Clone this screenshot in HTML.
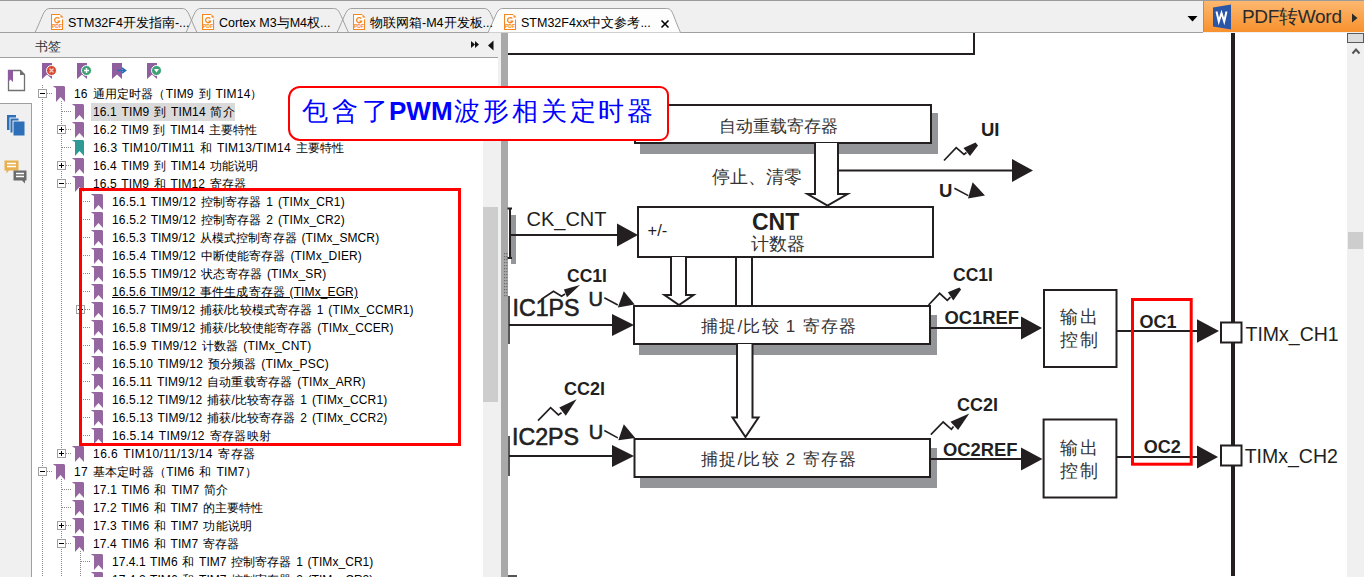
<!DOCTYPE html>
<html><head><meta charset="utf-8">
<style>
html,body{margin:0;padding:0;}
body{width:1364px;height:577px;overflow:hidden;position:relative;background:#f0f0f0;font-family:"Liberation Sans",sans-serif;}
.abs{position:absolute;}
.row{position:absolute;height:18px;line-height:18px;font-size:12px;color:#000;white-space:pre;word-spacing:1.3px;}
.row.ul{text-decoration:underline;}

.row.ul span{}
.tabtxt{position:absolute;top:13px;height:20px;line-height:20px;font-size:12.5px;color:#000;white-space:pre;}
</style></head><body>
<div class="abs" style="left:0;top:0;width:1364px;height:1px;background:#9a9a9a"></div>
<svg class="abs" style="left:0;top:0" width="1364" height="34"><path d="M35 32.5C39.2 24 42.7 14 45 11C46.5 9 48 8.5 50 8.5H182C184 8.5 185.5 9 187 11C189.3 14 192.8 24 197 32.5" fill="none" stroke="#a0a0a0" stroke-width="1"/><path d="M186 32.5C190.2 24 193.7 14 196 11C197.5 9 199 8.5 201 8.5H333.5C335.5 8.5 337.0 9 338.5 11C340.8 14 344.3 24 348.5 32.5" fill="none" stroke="#a0a0a0" stroke-width="1"/><path d="M337 32.5C341.2 24 344.7 14 347 11C348.5 9 350 8.5 352 8.5H484C486 8.5 487.5 9 489 11C491.3 14 494.8 24 499 32.5" fill="none" stroke="#a0a0a0" stroke-width="1"/><line x1="0" y1="32.5" x2="1203" y2="32.5" stroke="#a0a0a0"/><path d="M488 32.5C492.2 24 495.7 14 498 11C499.5 9 501 8.5 503 8.5H666.5C668.5 8.5 670.0 9 671.5 11C673.35 14 676.6 24 680.5 32.5" fill="#fdfdfd" stroke="#a0a0a0" stroke-width="1"/></svg>
<svg class="abs" style="left:51px;top:14px" width="13" height="17" viewBox="0 0 13 17"><path d="M9 0.5H0.5V15.5H11.5V5.5" fill="#fff" stroke="#f5871f" stroke-width="1.1"/><path d="M9.5 0.3L12.5 3.5H9.5Z" fill="#f5871f"/><path d="M8.3 4.6A2.6 2.6 0 1 0 8.6 7.2H6.4" fill="none" stroke="#f5871f" stroke-width="1.3"/><text x="6" y="14" font-size="5" font-weight="bold" fill="#f5871f" text-anchor="middle">PDF</text></svg><svg class="abs" style="left:202px;top:14px" width="13" height="17" viewBox="0 0 13 17"><path d="M9 0.5H0.5V15.5H11.5V5.5" fill="#fff" stroke="#f5871f" stroke-width="1.1"/><path d="M9.5 0.3L12.5 3.5H9.5Z" fill="#f5871f"/><path d="M8.3 4.6A2.6 2.6 0 1 0 8.6 7.2H6.4" fill="none" stroke="#f5871f" stroke-width="1.3"/><text x="6" y="14" font-size="5" font-weight="bold" fill="#f5871f" text-anchor="middle">PDF</text></svg><svg class="abs" style="left:353px;top:14px" width="13" height="17" viewBox="0 0 13 17"><path d="M9 0.5H0.5V15.5H11.5V5.5" fill="#fff" stroke="#f5871f" stroke-width="1.1"/><path d="M9.5 0.3L12.5 3.5H9.5Z" fill="#f5871f"/><path d="M8.3 4.6A2.6 2.6 0 1 0 8.6 7.2H6.4" fill="none" stroke="#f5871f" stroke-width="1.3"/><text x="6" y="14" font-size="5" font-weight="bold" fill="#f5871f" text-anchor="middle">PDF</text></svg><svg class="abs" style="left:504px;top:14px" width="13" height="17" viewBox="0 0 13 17"><path d="M9 0.5H0.5V15.5H11.5V5.5" fill="#fff" stroke="#f5871f" stroke-width="1.1"/><path d="M9.5 0.3L12.5 3.5H9.5Z" fill="#f5871f"/><path d="M8.3 4.6A2.6 2.6 0 1 0 8.6 7.2H6.4" fill="none" stroke="#f5871f" stroke-width="1.3"/><text x="6" y="14" font-size="5" font-weight="bold" fill="#f5871f" text-anchor="middle">PDF</text></svg>
<div class="tabtxt" style="left:68px">STM32F4开发指南-...</div>
<div class="tabtxt" style="left:219px">Cortex M3与M4权...</div>
<div class="tabtxt" style="left:370px">物联网箱-M4开发板...</div>
<div class="tabtxt" style="left:521px">STM32F4xx中文参考...</div>
<svg class="abs" style="left:660px;top:19px" width="10" height="10"><path d="M1.5 1.5L8.5 8.5M8.5 1.5L1.5 8.5" stroke="#000" stroke-width="1.6"/></svg>
<svg class="abs" style="left:1187px;top:15px" width="11" height="7"><path d="M0.5 1H10.5L5.5 6.5Z" fill="#000"/></svg>
<div class="abs" style="left:1203px;top:1px;width:161px;height:31px;background:linear-gradient(#fdb870,#f8912e);border-left:1px solid #e0842a;box-sizing:border-box"></div>
<svg class="abs" style="left:1212px;top:4px" width="20" height="26" viewBox="0 0 20 26"><path d="M1 3.5L19 0.5V25.5L1 22.5Z" fill="#2a56a8"/><path d="M4.5 7.5L6.8 17.5L9.5 9L12.2 17.5L14.5 7.5" fill="none" stroke="#fff" stroke-width="2"/></svg>
<div class="abs" style="left:1242px;top:5px;font-size:19px;line-height:24px;color:#2a2a2a;white-space:pre;letter-spacing:-0.3px">PDF转Word</div>
<svg class="abs" style="left:1351px;top:13px" width="8" height="10"><path d="M1 0.5L6.5 5L1 9.5Z" fill="#2a2a2a"/></svg>

<!-- bookmark header -->
<div class="abs" style="left:0;top:33px;width:501px;height:24px;background:#f0f0f0"></div>
<div class="abs" style="left:0;top:57px;width:498px;height:1px;background:#a0a0a0"></div>
<div class="abs" style="left:35px;top:37.5px;font-size:12.5px;line-height:18px;color:#333">书签</div>
<svg class="abs" style="left:470px;top:40px" width="26" height="11"><path d="M1 1L5 4.5L1 8ZM5 1L9 4.5L5 8Z" fill="#111"/><path d="M23.5 0.5V10.5L18 5.5Z" fill="#111"/></svg>

<!-- left icon column -->
<div class="abs" style="left:0;top:58px;width:32px;height:519px;background:#fff"></div>
<div class="abs" style="left:0;top:103px;width:31px;height:474px;background:#f0f0f0;border-top:1px solid #a0a0a0;border-right:1px solid #a0a0a0;box-sizing:border-box;width:32px"></div>
<svg class="abs" style="left:7px;top:69px" width="20" height="23"><path d="M1.5 1.5H13.5L17.5 5.5V21.5H1.5Z" fill="#fff" stroke="#707070" stroke-width="1.3"/><path d="M13 1V6H18" fill="#707070"/><path d="M1 1H6V13L3.5 10.5L1 13Z" fill="#8e5c9e"/></svg>
<svg class="abs" style="left:6px;top:114px" width="20" height="24"><rect x="1" y="1" width="9" height="15" fill="#2d6fb8"/><rect x="4" y="4" width="9" height="15" fill="#2d6fb8" stroke="#f0f0f0" stroke-width="1"/><rect x="7" y="7" width="12" height="15" fill="#2d6fb8" stroke="#f0f0f0" stroke-width="1"/></svg>
<svg class="abs" style="left:4px;top:160px" width="25" height="25"><path d="M0.5 0.5H14.5V10.5H5L2.5 13.5V10.5H0.5Z" fill="#e9b04f"/><path d="M3 3.5H12M3 6.5H12" stroke="#fff" stroke-width="1.3"/><path d="M9.5 10.5H22.5V20.5H21V23.5L18 20.5H9.5Z" fill="#6b6b6b"/><path d="M12 13.5H20M12 16.5H20" stroke="#fff" stroke-width="1.3"/></svg>

<!-- tree panel -->
<div class="abs" style="left:32px;top:58px;width:466px;height:519px;background:#fff"></div>
<div class="abs" style="left:498px;top:58px;width:3px;height:519px;background:#f0f0f0"></div>
<div class="abs" style="left:483px;top:86px;width:15px;height:491px;background:#f0f0f0"></div>
<div class="abs" style="left:483px;top:207px;width:15px;height:195px;background:#cdcdcd"></div>

<!-- bookmark toolbar icons -->
<svg class="abs" style="left:35px;top:58px" width="140" height="26">
<path d="M7 5H17V21L12 16.5L7 21Z" fill="#8f5e9f"/>
<circle cx="16.5" cy="12.5" r="5" fill="#d9482e" stroke="#fff" stroke-width="1"/><path d="M14.5 10.5L18.5 14.5M18.5 10.5L14.5 14.5" stroke="#f5c7bd" stroke-width="1.4"/>
<path d="M42 5H52V21L47 16.5L42 21Z" fill="#8f5e9f"/>
<circle cx="51.5" cy="12.5" r="5" fill="#3ca276" stroke="#fff" stroke-width="1"/><path d="M49 12.5H54M51.5 10V15" stroke="#fff" stroke-width="1.4"/>
<path d="M77 5H87V21L82 16.5L77 21Z" fill="#8f5e9f"/>
<path d="M82 12.5H89M87 10L90.5 12.5L87 15" fill="none" stroke="#2a6bb8" stroke-width="1.6"/>
<path d="M112 5H122V21L117 16.5L112 21Z" fill="#8f5e9f"/>
<circle cx="121.5" cy="12.5" r="5" fill="#3ca276" stroke="#fff" stroke-width="1"/><path d="M119 11L124 11L121.5 14.5Z" fill="#fff"/>
</svg>

<div class="abs" style="left:91px;top:103px;width:144px;height:18px;background:#dadada"></div>
<svg class="abs" style="left:0;top:0" width="501" height="577"><line x1="42.5" y1="85" x2="42.5" y2="577" stroke="#8a8a8a" stroke-width="1" stroke-dasharray="1 1"/>
<line x1="61.5" y1="101" x2="61.5" y2="454" stroke="#8a8a8a" stroke-width="1" stroke-dasharray="1 1"/>
<line x1="61.5" y1="479" x2="61.5" y2="577" stroke="#8a8a8a" stroke-width="1" stroke-dasharray="1 1"/>
<line x1="80.5" y1="191" x2="80.5" y2="436" stroke="#8a8a8a" stroke-width="1" stroke-dasharray="1 1"/>
<line x1="80.5" y1="551" x2="80.5" y2="577" stroke="#8a8a8a" stroke-width="1" stroke-dasharray="1 1"/>
<line x1="47" y1="93.5" x2="53" y2="93.5" stroke="#8a8a8a" stroke-width="1" stroke-dasharray="1 1"/>
<rect x="38.5" y="89.5" width="8" height="8" fill="#fff" stroke="#a0a0a0"/>
<line x1="40" y1="93.5" x2="45" y2="93.5" stroke="#000"/>
<path d="M53 86H64L65 87V102L60.5 97L56 102V88L54 87Z" fill="#95669f"/>
<line x1="62" y1="111.5" x2="72" y2="111.5" stroke="#8a8a8a" stroke-width="1" stroke-dasharray="1 1"/>
<path d="M72 104H83L84 105V120L79.5 115L75 120V106L73 105Z" fill="#95669f"/>
<line x1="66" y1="129.5" x2="72" y2="129.5" stroke="#8a8a8a" stroke-width="1" stroke-dasharray="1 1"/>
<rect x="57.5" y="125.5" width="8" height="8" fill="#fff" stroke="#a0a0a0"/>
<line x1="59" y1="129.5" x2="64" y2="129.5" stroke="#000"/>
<line x1="61.5" y1="127" x2="61.5" y2="132" stroke="#000"/>
<path d="M72 122H83L84 123V138L79.5 133L75 138V124L73 123Z" fill="#95669f"/>
<line x1="62" y1="147.5" x2="72" y2="147.5" stroke="#8a8a8a" stroke-width="1" stroke-dasharray="1 1"/>
<path d="M72 140H83L84 141V156L79.5 151L75 156V142L73 141Z" fill="#2f9a95"/>
<line x1="66" y1="165.5" x2="72" y2="165.5" stroke="#8a8a8a" stroke-width="1" stroke-dasharray="1 1"/>
<rect x="57.5" y="161.5" width="8" height="8" fill="#fff" stroke="#a0a0a0"/>
<line x1="59" y1="165.5" x2="64" y2="165.5" stroke="#000"/>
<line x1="61.5" y1="163" x2="61.5" y2="168" stroke="#000"/>
<path d="M72 158H83L84 159V174L79.5 169L75 174V160L73 159Z" fill="#95669f"/>
<line x1="66" y1="183.5" x2="72" y2="183.5" stroke="#8a8a8a" stroke-width="1" stroke-dasharray="1 1"/>
<rect x="57.5" y="179.5" width="8" height="8" fill="#fff" stroke="#a0a0a0"/>
<line x1="59" y1="183.5" x2="64" y2="183.5" stroke="#000"/>
<path d="M72 176H83L84 177V192L79.5 187L75 192V178L73 177Z" fill="#95669f"/>
<line x1="81" y1="201.5" x2="91" y2="201.5" stroke="#8a8a8a" stroke-width="1" stroke-dasharray="1 1"/>
<path d="M91 194H102L103 195V210L98.5 205L94 210V196L92 195Z" fill="#95669f"/>
<line x1="81" y1="219.5" x2="91" y2="219.5" stroke="#8a8a8a" stroke-width="1" stroke-dasharray="1 1"/>
<path d="M91 212H102L103 213V228L98.5 223L94 228V214L92 213Z" fill="#95669f"/>
<line x1="81" y1="237.5" x2="91" y2="237.5" stroke="#8a8a8a" stroke-width="1" stroke-dasharray="1 1"/>
<path d="M91 230H102L103 231V246L98.5 241L94 246V232L92 231Z" fill="#95669f"/>
<line x1="81" y1="255.5" x2="91" y2="255.5" stroke="#8a8a8a" stroke-width="1" stroke-dasharray="1 1"/>
<path d="M91 248H102L103 249V264L98.5 259L94 264V250L92 249Z" fill="#95669f"/>
<line x1="81" y1="273.5" x2="91" y2="273.5" stroke="#8a8a8a" stroke-width="1" stroke-dasharray="1 1"/>
<path d="M91 266H102L103 267V282L98.5 277L94 282V268L92 267Z" fill="#95669f"/>
<line x1="81" y1="291.5" x2="91" y2="291.5" stroke="#8a8a8a" stroke-width="1" stroke-dasharray="1 1"/>
<path d="M91 284H102L103 285V300L98.5 295L94 300V286L92 285Z" fill="#95669f"/>
<line x1="85" y1="309.5" x2="91" y2="309.5" stroke="#8a8a8a" stroke-width="1" stroke-dasharray="1 1"/>
<rect x="76.5" y="305.5" width="8" height="8" fill="#fff" stroke="#a0a0a0"/>
<line x1="78" y1="309.5" x2="83" y2="309.5" stroke="#000"/>
<line x1="80.5" y1="307" x2="80.5" y2="312" stroke="#000"/>
<path d="M91 302H102L103 303V318L98.5 313L94 318V304L92 303Z" fill="#95669f"/>
<line x1="81" y1="327.5" x2="91" y2="327.5" stroke="#8a8a8a" stroke-width="1" stroke-dasharray="1 1"/>
<path d="M91 320H102L103 321V336L98.5 331L94 336V322L92 321Z" fill="#95669f"/>
<line x1="81" y1="345.5" x2="91" y2="345.5" stroke="#8a8a8a" stroke-width="1" stroke-dasharray="1 1"/>
<path d="M91 338H102L103 339V354L98.5 349L94 354V340L92 339Z" fill="#95669f"/>
<line x1="81" y1="363.5" x2="91" y2="363.5" stroke="#8a8a8a" stroke-width="1" stroke-dasharray="1 1"/>
<path d="M91 356H102L103 357V372L98.5 367L94 372V358L92 357Z" fill="#95669f"/>
<line x1="81" y1="381.5" x2="91" y2="381.5" stroke="#8a8a8a" stroke-width="1" stroke-dasharray="1 1"/>
<path d="M91 374H102L103 375V390L98.5 385L94 390V376L92 375Z" fill="#95669f"/>
<line x1="81" y1="399.5" x2="91" y2="399.5" stroke="#8a8a8a" stroke-width="1" stroke-dasharray="1 1"/>
<path d="M91 392H102L103 393V408L98.5 403L94 408V394L92 393Z" fill="#95669f"/>
<line x1="81" y1="417.5" x2="91" y2="417.5" stroke="#8a8a8a" stroke-width="1" stroke-dasharray="1 1"/>
<path d="M91 410H102L103 411V426L98.5 421L94 426V412L92 411Z" fill="#95669f"/>
<line x1="81" y1="435.5" x2="91" y2="435.5" stroke="#8a8a8a" stroke-width="1" stroke-dasharray="1 1"/>
<path d="M91 428H102L103 429V444L98.5 439L94 444V430L92 429Z" fill="#95669f"/>
<line x1="66" y1="453.5" x2="72" y2="453.5" stroke="#8a8a8a" stroke-width="1" stroke-dasharray="1 1"/>
<rect x="57.5" y="449.5" width="8" height="8" fill="#fff" stroke="#a0a0a0"/>
<line x1="59" y1="453.5" x2="64" y2="453.5" stroke="#000"/>
<line x1="61.5" y1="451" x2="61.5" y2="456" stroke="#000"/>
<path d="M72 446H83L84 447V462L79.5 457L75 462V448L73 447Z" fill="#95669f"/>
<line x1="47" y1="471.5" x2="53" y2="471.5" stroke="#8a8a8a" stroke-width="1" stroke-dasharray="1 1"/>
<rect x="38.5" y="467.5" width="8" height="8" fill="#fff" stroke="#a0a0a0"/>
<line x1="40" y1="471.5" x2="45" y2="471.5" stroke="#000"/>
<path d="M53 464H64L65 465V480L60.5 475L56 480V466L54 465Z" fill="#95669f"/>
<line x1="62" y1="489.5" x2="72" y2="489.5" stroke="#8a8a8a" stroke-width="1" stroke-dasharray="1 1"/>
<path d="M72 482H83L84 483V498L79.5 493L75 498V484L73 483Z" fill="#95669f"/>
<line x1="62" y1="507.5" x2="72" y2="507.5" stroke="#8a8a8a" stroke-width="1" stroke-dasharray="1 1"/>
<path d="M72 500H83L84 501V516L79.5 511L75 516V502L73 501Z" fill="#95669f"/>
<line x1="66" y1="525.5" x2="72" y2="525.5" stroke="#8a8a8a" stroke-width="1" stroke-dasharray="1 1"/>
<rect x="57.5" y="521.5" width="8" height="8" fill="#fff" stroke="#a0a0a0"/>
<line x1="59" y1="525.5" x2="64" y2="525.5" stroke="#000"/>
<line x1="61.5" y1="523" x2="61.5" y2="528" stroke="#000"/>
<path d="M72 518H83L84 519V534L79.5 529L75 534V520L73 519Z" fill="#95669f"/>
<line x1="66" y1="543.5" x2="72" y2="543.5" stroke="#8a8a8a" stroke-width="1" stroke-dasharray="1 1"/>
<rect x="57.5" y="539.5" width="8" height="8" fill="#fff" stroke="#a0a0a0"/>
<line x1="59" y1="543.5" x2="64" y2="543.5" stroke="#000"/>
<path d="M72 536H83L84 537V552L79.5 547L75 552V538L73 537Z" fill="#95669f"/>
<line x1="81" y1="561.5" x2="91" y2="561.5" stroke="#8a8a8a" stroke-width="1" stroke-dasharray="1 1"/>
<path d="M91 554H102L103 555V570L98.5 565L94 570V556L92 555Z" fill="#95669f"/>
<line x1="81" y1="579.5" x2="91" y2="579.5" stroke="#8a8a8a" stroke-width="1" stroke-dasharray="1 1"/>
<path d="M91 572H102L103 573V588L98.5 583L94 588V574L92 573Z" fill="#95669f"/></svg>
<div class="row" style="top:85px;left:74px;letter-spacing:0.186px">16 通用定时器（TIM9 到 TIM14）</div>
<div class="row sel" style="top:103px;left:93px;letter-spacing:0.137px">16.1 TIM9 到 TIM14 简介</div>
<div class="row" style="top:121px;left:93px;letter-spacing:0.067px">16.2 TIM9 到 TIM14 主要特性</div>
<div class="row" style="top:139px;left:93px;letter-spacing:0.235px">16.3 TIM10/TIM11 和 TIM13/TIM14 主要特性</div>
<div class="row" style="top:157px;left:93px;letter-spacing:0.105px">16.4 TIM9 到 TIM14 功能说明</div>
<div class="row" style="top:175px;left:93px;letter-spacing:0.100px">16.5 TIM9 和 TIM12 寄存器</div>
<div class="row" style="top:193px;left:112px;letter-spacing:0.156px">16.5.1 TIM9/12 控制寄存器 1 (TIMx_CR1)</div>
<div class="row" style="top:211px;left:112px;letter-spacing:0.156px">16.5.2 TIM9/12 控制寄存器 2 (TIMx_CR2)</div>
<div class="row" style="top:229px;left:112px;letter-spacing:0.100px">16.5.3 TIM9/12 从模式控制寄存器 (TIMx_SMCR)</div>
<div class="row" style="top:247px;left:112px;letter-spacing:0.145px">16.5.4 TIM9/12 中断使能寄存器 (TIMx_DIER)</div>
<div class="row" style="top:265px;left:112px;letter-spacing:0.183px">16.5.5 TIM9/12 状态寄存器 (TIMx_SR)</div>
<div class="row ul" style="top:283px;left:112px;letter-spacing:0.109px">16.5.6 TIM9/12 事件生成寄存器 (TIMx_EGR)</div>
<div class="row" style="top:301px;left:112px;letter-spacing:0.095px">16.5.7 TIM9/12 捕获/比较模式寄存器 1 (TIMx_CCMR1)</div>
<div class="row" style="top:319px;left:112px;letter-spacing:0.108px">16.5.8 TIM9/12 捕获/比较使能寄存器 (TIMx_CCER)</div>
<div class="row" style="top:337px;left:112px;letter-spacing:0.218px">16.5.9 TIM9/12 计数器 (TIMx_CNT)</div>
<div class="row" style="top:355px;left:112px;letter-spacing:0.167px">16.5.10 TIM9/12 预分频器 (TIMx_PSC)</div>
<div class="row" style="top:373px;left:112px;letter-spacing:0.182px">16.5.11 TIM9/12 自动重载寄存器 (TIMx_ARR)</div>
<div class="row" style="top:391px;left:112px;letter-spacing:0.130px">16.5.12 TIM9/12 捕获/比较寄存器 1 (TIMx_CCR1)</div>
<div class="row" style="top:409px;left:112px;letter-spacing:0.130px">16.5.13 TIM9/12 捕获/比较寄存器 2 (TIMx_CCR2)</div>
<div class="row" style="top:427px;left:112px;letter-spacing:0.290px">16.5.14 TIM9/12 寄存器映射</div>
<div class="row" style="top:445px;left:93px;letter-spacing:0.477px">16.6 TIM10/11/13/14 寄存器</div>
<div class="row" style="top:463px;left:74px;letter-spacing:0.240px">17 基本定时器（TIM6 和 TIM7）</div>
<div class="row" style="top:481px;left:93px;letter-spacing:0.167px">17.1 TIM6 和 TIM7 简介</div>
<div class="row" style="top:499px;left:93px;letter-spacing:0.090px">17.2 TIM6 和 TIM7 的主要特性</div>
<div class="row" style="top:517px;left:93px;letter-spacing:0.120px">17.3 TIM6 和 TIM7 功能说明</div>
<div class="row" style="top:535px;left:93px;letter-spacing:0.095px">17.4 TIM6 和 TIM7 寄存器</div>
<div class="row" style="top:553px;left:112px;letter-spacing:0.047px">17.4.1 TIM6 和 TIM7 控制寄存器 1 (TIMx_CR1)</div>
<div class="row" style="top:571px;left:112px;letter-spacing:0.047px">17.4.2 TIM6 和 TIM7 控制寄存器 2 (TIMx_CR2)</div>

<!-- splitter -->
<div class="abs" style="left:501px;top:33px;width:7px;height:544px;background:#a9a9aa"></div>

<svg class="abs" style="left:501px;top:250px" width="7" height="50"><rect x="3" y="3" width="1.2" height="1.2" fill="#6a6a6a"/><rect x="5.2" y="3" width="1.2" height="1.2" fill="#6a6a6a"/><rect x="3" y="6" width="1.2" height="1.2" fill="#6a6a6a"/><rect x="5.2" y="6" width="1.2" height="1.2" fill="#6a6a6a"/><rect x="3" y="9" width="1.2" height="1.2" fill="#6a6a6a"/><rect x="5.2" y="9" width="1.2" height="1.2" fill="#6a6a6a"/><rect x="3" y="12" width="1.2" height="1.2" fill="#6a6a6a"/><rect x="5.2" y="12" width="1.2" height="1.2" fill="#6a6a6a"/><rect x="3" y="15" width="1.2" height="1.2" fill="#6a6a6a"/><rect x="5.2" y="15" width="1.2" height="1.2" fill="#6a6a6a"/><rect x="3" y="18" width="1.2" height="1.2" fill="#6a6a6a"/><rect x="5.2" y="18" width="1.2" height="1.2" fill="#6a6a6a"/><rect x="3" y="21" width="1.2" height="1.2" fill="#6a6a6a"/><rect x="5.2" y="21" width="1.2" height="1.2" fill="#6a6a6a"/><rect x="3" y="24" width="1.2" height="1.2" fill="#6a6a6a"/><rect x="5.2" y="24" width="1.2" height="1.2" fill="#6a6a6a"/><rect x="3" y="27" width="1.2" height="1.2" fill="#6a6a6a"/><rect x="5.2" y="27" width="1.2" height="1.2" fill="#6a6a6a"/><rect x="3" y="30" width="1.2" height="1.2" fill="#6a6a6a"/><rect x="5.2" y="30" width="1.2" height="1.2" fill="#6a6a6a"/><rect x="3" y="33" width="1.2" height="1.2" fill="#6a6a6a"/><rect x="5.2" y="33" width="1.2" height="1.2" fill="#6a6a6a"/><rect x="3" y="36" width="1.2" height="1.2" fill="#6a6a6a"/><rect x="5.2" y="36" width="1.2" height="1.2" fill="#6a6a6a"/><rect x="3" y="39" width="1.2" height="1.2" fill="#6a6a6a"/><rect x="5.2" y="39" width="1.2" height="1.2" fill="#6a6a6a"/><rect x="3" y="42" width="1.2" height="1.2" fill="#6a6a6a"/><rect x="5.2" y="42" width="1.2" height="1.2" fill="#6a6a6a"/><rect x="3" y="45" width="1.2" height="1.2" fill="#6a6a6a"/><rect x="5.2" y="45" width="1.2" height="1.2" fill="#6a6a6a"/></svg>
<!-- document -->
<div class="abs" style="left:508px;top:33px;width:839px;height:544px;background:#fff"></div>
<svg class="abs" style="left:0;top:0;font-family:'Liberation Sans',sans-serif" width="1364" height="577"><path d="M508 54H974V33" fill="none" stroke="#231f20" stroke-width="2"/>
<rect x="1231" y="33" width="4" height="543" fill="#231f20"/>
<rect x="640" y="113" width="298" height="41" fill="#939598"/>
<rect x="635" y="105" width="296" height="38" fill="#fff" stroke="#231f20" stroke-width="2"/>
<path d="M815 143V194H807.5L827.5 205.5L847.5 194H838V143" fill="#fff" stroke="#231f20" stroke-width="2"/>
<line x1="838" y1="170.5" x2="1013" y2="170.5" stroke="#231f20" stroke-width="2"/>
<path d="M1012 159.0L1033 170.5L1012 182.0Z" fill="#231f20" stroke="none" stroke-width="0"/>
<path d="M944 160.5L956.2 147.7L964 154.4L966.5 152.5" fill="none" stroke="#231f20" stroke-width="1.7"/>
<path d="M963.5 148L975.5 142.5L978 145.5L970 156Z" fill="#231f20" stroke="none" stroke-width="0"/>
<line x1="954.4" y1="188.3" x2="968.3" y2="195.6" stroke="#231f20" stroke-width="1.6"/>
<path d="M972.6 182.3L985 195.4L968 198.5Z" fill="#231f20" stroke="none" stroke-width="0"/>
<rect x="638" y="207" width="295" height="50" fill="#fff" stroke="#231f20" stroke-width="2"/>
<rect x="511" y="215" width="5" height="49" fill="#939598"/>
<line x1="510" y1="235" x2="618" y2="235" stroke="#231f20" stroke-width="2"/>
<path d="M617 223.5L638 235L617 246.5Z" fill="#231f20" stroke="none" stroke-width="0"/>
<path d="M507.5 208.5H512M510 208V258M507.5 258H512" fill="none" stroke="#231f20" stroke-width="2"/>
<path d="M671 257V295H664.5L679.0 305L693.5 295H686V257" fill="#fff" stroke="#231f20" stroke-width="2"/>
<line x1="736" y1="257" x2="736" y2="306" stroke="#231f20" stroke-width="2"/>
<line x1="752" y1="257" x2="752" y2="306" stroke="#231f20" stroke-width="2"/>
<rect x="639" y="315" width="298" height="40" fill="#939598"/>
<rect x="634" y="306" width="296" height="38" fill="#fff" stroke="#231f20" stroke-width="2"/>
<path d="M737 344V417.5H732.5L745.5 437L758.5 417.5H752.5V344" fill="#fff" stroke="#231f20" stroke-width="2"/>
<rect x="640" y="448" width="297" height="40" fill="#939598"/>
<rect x="634.5" y="439" width="295.5" height="38" fill="#fff" stroke="#231f20" stroke-width="2"/>
<line x1="509" y1="296" x2="509" y2="344" stroke="#231f20" stroke-width="1.5"/>
<line x1="509" y1="325" x2="613" y2="325" stroke="#231f20" stroke-width="2"/>
<path d="M612 314.0L634 325L612 336.0Z" fill="#231f20" stroke="none" stroke-width="0"/>
<line x1="509" y1="436" x2="509" y2="476" stroke="#231f20" stroke-width="1.5"/>
<line x1="509" y1="456" x2="613" y2="456" stroke="#231f20" stroke-width="2"/>
<path d="M612 445.0L634 456L612 467.0Z" fill="#231f20" stroke="none" stroke-width="0"/>
<path d="M541.5 299.2L553.5 291.2L561.6 296.2L565 294" fill="none" stroke="#231f20" stroke-width="1.7"/>
<path d="M563.9 289.6L580 285L567 297.3Z" fill="#231f20" stroke="none" stroke-width="0"/>
<path d="M538 420.6L550.6 407.6L558.4 414.9L561.5 412.8" fill="none" stroke="#231f20" stroke-width="1.7"/>
<path d="M559.3 407.6L576.6 399.3L565.8 415.8Z" fill="#231f20" stroke="none" stroke-width="0"/>
<line x1="604.3" y1="297.7" x2="617.8" y2="305" stroke="#231f20" stroke-width="1.6"/>
<path d="M623.8 291.3L634.7 304.6L617.8 307.5Z" fill="#231f20" stroke="none" stroke-width="0"/>
<line x1="604.3" y1="430.5" x2="617.8" y2="437.9" stroke="#231f20" stroke-width="1.6"/>
<path d="M623.8 424.3L635.3 437.9L618.3 440.3Z" fill="#231f20" stroke="none" stroke-width="0"/>
<path d="M928.6 305L939.6 293.3L947.3 300.3L950.5 297.2" fill="none" stroke="#231f20" stroke-width="1.7"/>
<path d="M947.9 292.2L959.3 287.5L961.1 289.6L953.3 300.5Z" fill="#231f20" stroke="none" stroke-width="0"/>
<line x1="930" y1="328" x2="1022" y2="328" stroke="#231f20" stroke-width="2"/>
<path d="M1021 316.5L1042 328L1021 339.5Z" fill="#231f20" stroke="none" stroke-width="0"/>
<rect x="1044" y="290" width="72.5" height="77" fill="#fff" stroke="#231f20" stroke-width="2"/>
<line x1="1116" y1="331" x2="1198" y2="331" stroke="#231f20" stroke-width="2"/>
<path d="M1197 319.25L1219 331L1197 342.75Z" fill="#231f20" stroke="none" stroke-width="0"/>
<rect x="1221" y="322.5" width="20.5" height="20" fill="#fff" stroke="#231f20" stroke-width="2"/>
<path d="M930.8 434.7L943.2 422L951.4 429.3L953.5 426.5" fill="none" stroke="#231f20" stroke-width="1.7"/>
<path d="M950.5 421.7L969.3 413.5L958.1 429.9Z" fill="#231f20" stroke="none" stroke-width="0"/>
<line x1="930" y1="459" x2="1022" y2="459" stroke="#231f20" stroke-width="2"/>
<path d="M1021 447.5L1042.5 459L1021 470.5Z" fill="#231f20" stroke="none" stroke-width="0"/>
<rect x="1043.6" y="419.5" width="72.8" height="78" fill="#fff" stroke="#231f20" stroke-width="2"/>
<line x1="1116" y1="457" x2="1198" y2="457" stroke="#231f20" stroke-width="2"/>
<path d="M1197 445.5L1218 457L1197 468.5Z" fill="#231f20" stroke="none" stroke-width="0"/>
<rect x="1221" y="445.5" width="20.5" height="20" fill="#fff" stroke="#231f20" stroke-width="2"/>
<rect x="1132.5" y="299.5" width="58.7" height="164.7" fill="none" stroke="#ff0000" stroke-width="3"/>
<text x="719" y="132" font-size="17.3" font-weight="normal" fill="#333" >自动重载寄存器</text>
<text x="712" y="183" font-size="18" font-weight="normal" fill="#333" >停止、清零</text>
<text x="981" y="136" font-size="18.5" font-weight="bold" fill="#231f20" >UI</text>
<text x="939" y="197" font-size="18.5" font-weight="bold" fill="#231f20" >U</text>
<text x="526.5" y="226" font-size="20" font-weight="normal" fill="#231f20" >CK_CNT</text>
<text x="647.5" y="235.5" font-size="16.5" font-weight="normal" fill="#231f20" >+/-</text>
<text x="752" y="230" font-size="23" font-weight="bold" fill="#231f20" >CNT</text>
<text x="751" y="250" font-size="18" font-weight="normal" fill="#333" >计数器</text>
<text x="567" y="281.5" font-size="17.5" font-weight="bold" fill="#231f20" >CC1I</text>
<text x="512.5" y="316.3" font-size="23.2" font-weight="normal" fill="#231f20" stroke="#231f20" stroke-width="0.6">IC1PS</text>
<text x="588.5" y="305.8" font-size="20" font-weight="normal" fill="#231f20" stroke="#231f20" stroke-width="0.6">U</text>
<text x="564" y="395" font-size="18" font-weight="bold" fill="#231f20" >CC2I</text>
<text x="512" y="445" font-size="23.2" font-weight="normal" fill="#231f20" stroke="#231f20" stroke-width="0.6">IC2PS</text>
<text x="588.8" y="438.8" font-size="20" font-weight="normal" fill="#231f20" stroke="#231f20" stroke-width="0.6">U</text>
<text x="701" y="331.5" font-size="17" font-weight="normal" fill="#333" textLength="155" lengthAdjust="spacing">捕捉/比较 1 寄存器</text>
<text x="701" y="464.5" font-size="17" font-weight="normal" fill="#333" textLength="155" lengthAdjust="spacing">捕捉/比较 2 寄存器</text>
<text x="953" y="280.5" font-size="17.5" font-weight="bold" fill="#231f20" >CC1I</text>
<text x="944.5" y="323.6" font-size="18.4" font-weight="bold" fill="#231f20" >OC1REF</text>
<text x="1060" y="323" font-size="18" font-weight="normal" fill="#333" letter-spacing="1.5">输出</text>
<text x="1060" y="346" font-size="18" font-weight="normal" fill="#333" letter-spacing="1.5">控制</text>
<text x="1139.5" y="327.8" font-size="18" font-weight="bold" fill="#231f20" >OC1</text>
<text x="1245.5" y="341" font-size="19.5" font-weight="normal" fill="#231f20" >TIMx_CH1</text>
<text x="957" y="410.5" font-size="18" font-weight="bold" fill="#231f20" >CC2I</text>
<text x="943" y="456.3" font-size="18.4" font-weight="bold" fill="#231f20" >OC2REF</text>
<text x="1060" y="454" font-size="18" font-weight="normal" fill="#333" letter-spacing="1.5">输出</text>
<text x="1060" y="477" font-size="18" font-weight="normal" fill="#333" letter-spacing="1.5">控制</text>
<text x="1143.8" y="453" font-size="18" font-weight="bold" fill="#231f20" >OC2</text>
<text x="1244.7" y="462.6" font-size="19.5" font-weight="normal" fill="#231f20" >TIMx_CH2</text></svg>

<div class="abs" style="left:508px;top:575px;width:9px;height:2px;background:#555"></div>
<!-- right scrollbar -->
<div class="abs" style="left:1348px;top:43px;width:16px;height:534px;background:#f0f0f0"></div>
<div class="abs" style="left:1347px;top:33px;width:17px;height:10px;background:#dcdcdc;border:1px solid #5a5a5a;box-sizing:border-box"></div>
<svg class="abs" style="left:1351px;top:47px" width="10" height="8"><path d="M1.5 6.5L5 2.5L8.5 6.5" fill="none" stroke="#555" stroke-width="2"/></svg>
<div class="abs" style="left:1348px;top:232px;width:15px;height:17px;background:#cdcdcd"></div>

<!-- red box in sidebar -->
<div class="abs" style="left:79px;top:188px;width:382px;height:258px;border:3px solid #ff0000;box-sizing:border-box"></div>

<!-- callout -->
<div class="abs" style="left:288px;top:86px;width:381px;height:55px;border:2px solid #ff0000;border-radius:12px 9px 9px 12px;box-sizing:border-box;background:#fff"></div>
<div class="abs" style="left:302px;top:95px;font-size:26px;line-height:32px;color:#0000ff;white-space:pre;letter-spacing:4px">包含了</div><div class="abs" style="left:389px;top:95px;font-size:26px;line-height:32px;color:#0000ff;white-space:pre;font-weight:bold">PWM</div><div class="abs" style="left:454px;top:95px;font-size:26px;line-height:32px;color:#0000ff;white-space:pre;letter-spacing:2.9px">波形相关定时器</div>
</body></html>
